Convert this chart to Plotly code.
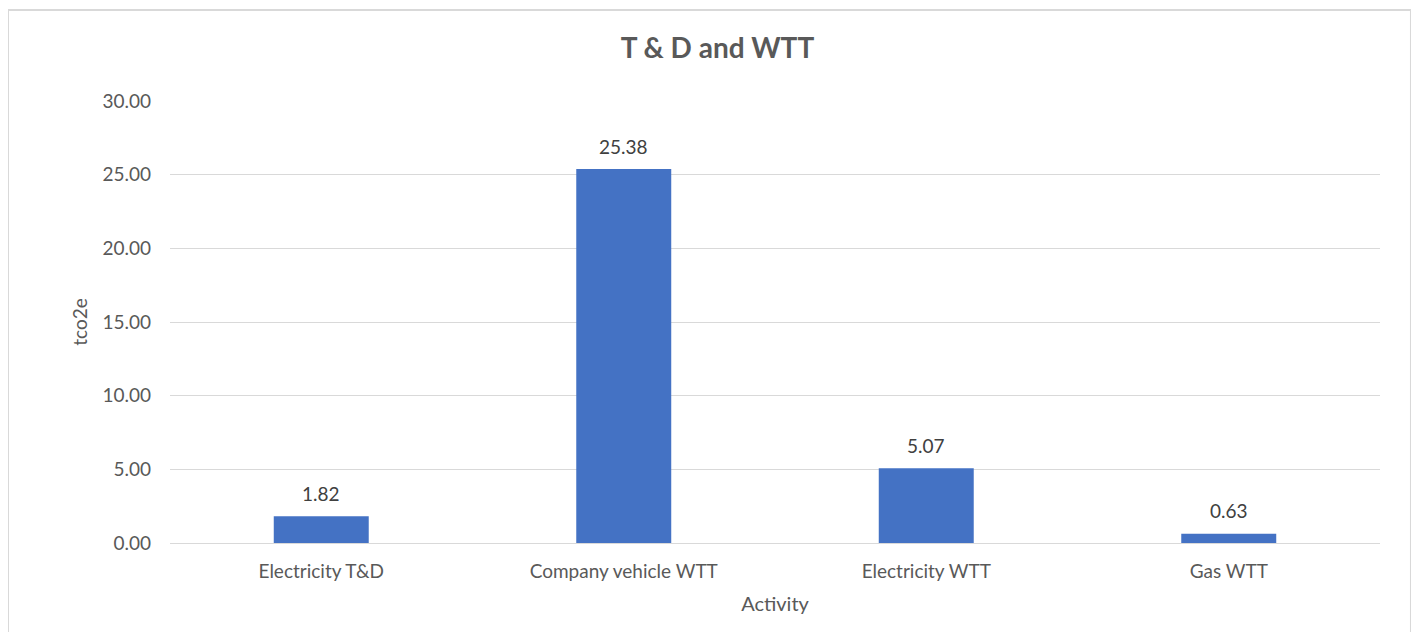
import plotly.graph_objects as go

activities = ['Electricity T&D', 'Company vehicle WTT', 'Electricity WTT', 'Gas WTT']
tco2e = [1.82, 25.38, 5.07, 0.63]
y_ticks = [0, 5, 10, 15, 20, 25, 30]

font_name = 'Lato, Open Sans, sans-serif'

fig = go.Figure()
fig.add_trace(go.Bar(
    x=activities, y=tco2e,
    marker=dict(color='#4472C4', line=dict(width=0)),
    hoverinfo='x+y',
))

# data labels above the bars
for a, v in zip(activities, tco2e):
    fig.add_annotation(x=a, y=v, text='%.2f' % v, showarrow=False,
                       yanchor='middle', yshift=23,
                       font=dict(size=19, color='#404040', family=font_name))

fig.update_layout(
    width=1419, height=632,
    margin=dict(l=162, r=47, t=93, b=97),
    paper_bgcolor='white', plot_bgcolor='white',
    bargap=0.686,
    showlegend=False,
    title=dict(text='<b>T & D and WTT</b>', x=0.5, xanchor='center', y=0.937, yanchor='middle',
               font=dict(size=28, color='#595959', family=font_name)),
    font=dict(family=font_name, color='#595959', size=19),
)
fig.update_yaxes(
    range=[0, 30], tickvals=y_ticks, tickformat='.2f',
    showgrid=True, gridcolor='#d9d9d9', gridwidth=1,
    zeroline=False, showline=False, ticks='',
    ticklabelstandoff=18,
    tickfont=dict(size=19, color='#595959'),
    title=dict(text='tco2e', font=dict(size=19, color='#595959'), standoff=9),
)
fig.update_xaxes(
    showline=True, linecolor='#d9d9d9', linewidth=1,
    ticks='', ticklabelstandoff=11,
    tickfont=dict(size=19, color='#595959'),
    title=dict(text='Activity', font=dict(size=20, color='#595959'), standoff=16),
)
# chart frame
fig.add_shape(type='rect', xref='paper', yref='paper',
              x0=-0.1339, x1=1.0256, y0=-0.3, y1=1.206,
              line=dict(color='#d9d9d9', width=2), layer='below')

fig.write_html('out.html')
